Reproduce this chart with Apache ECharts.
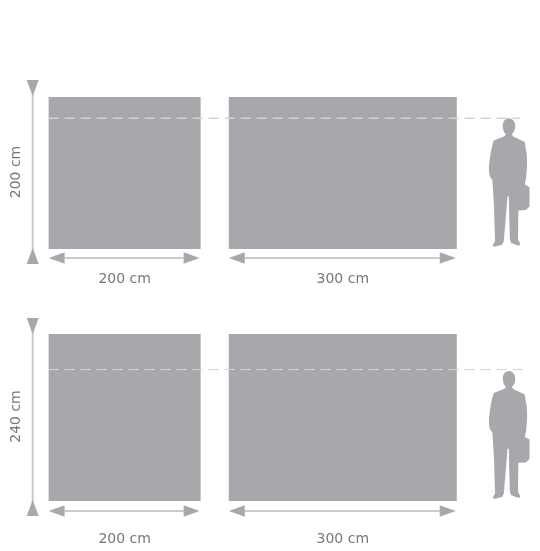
<!DOCTYPE html>
<html>
<head>
<meta charset="utf-8">
<style>html,body{margin:0;padding:0;background:#fff}#c{width:540px;height:551px}</style>
<script src="https://cdn.jsdelivr.net/npm/echarts@6/dist/echarts.min.js"></script>
</head>
<body>
<div id="c"></div>
<script>
// Data, in centimetres
var panelWidths = [200, 300];
var panelGap = 37;
var rowHeights = [200, 240];
var personFeet = [3, 3];
var personHead = [172, 187];
var guideLevel = [172, 189];
var guideEnd = [620, 631];
var personCentre = 606;
var xRange = [-64, 646.5];
var unit = ' cm';

// Styles
var GREY = '#a7a8ab', SHAFT = '#c9cacc', GUIDE = '#d2d3d5', TEXT = '#77787b';
var FONT = '"DejaVu Sans", sans-serif';
var PERSON = 'M205 55C193 55 186 66 187 82C188 92 192 100 196 104L192 109L160 122C154 140 150 165 147 190C145 205 146 222 150 233L156 240L158 268L161 320L164 425L157 437L162 441L185 435L190 425L197 340L201 290L205 290L206 350L208 420L212 430L235 438L239 433L232 420L233 332L255 331L266 320L266 262L252 254L256 235L259 195L258 165L252 126L218 110L214 104C220 96 224 90 224 80C224 66 217 55 205 55Z'
  + 'M192 112L178 212L235 212L218 112Z'
  + 'M200 116L208 116L206 126L212 198L205 208L198 198L203 126Z';

var panelStarts = [0, panelWidths[0] + panelGap];
var rows = [0, 1];

function arrowPoly(a, b, half) {
  // a = tip, b = base of head, in pixels
  var dx = b[0] - a[0], dy = b[1] - a[1], l = Math.sqrt(dx * dx + dy * dy) || 1;
  var nx = -dy / l * half, ny = dx / l * half;
  return [a, [b[0] + nx, b[1] + ny], [b[0] - nx, b[1] - ny]];
}
function arrow(p0, p1, vertical) {
  var len = 16, half = vertical ? 6 : 5.7;
  var s0 = vertical ? [p0[0], p0[1] - len] : [p0[0] + len, p0[1]];
  var s1 = vertical ? [p1[0], p1[1] + len] : [p1[0] - len, p1[1]];
  return [
    { type: 'line', shape: { x1: s0[0], y1: s0[1], x2: s1[0], y2: s1[1] }, style: { stroke: SHAFT, lineWidth: 2 } },
    { type: 'polygon', shape: { points: arrowPoly(p0, s0, half) }, style: { fill: GREY } },
    { type: 'polygon', shape: { points: arrowPoly(p1, s1, half) }, style: { fill: GREY } }
  ];
}

var series = [];
rows.forEach(function (r) {
  var h = rowHeights[r];
  var arrowDrop = r === 0 ? 9 : 10;
  var labelDrop = r === 0 ? 30 : 38;

  // panels
  series.push({
    type: 'custom', xAxisIndex: r, yAxisIndex: r, silent: true, clip: false, z: 1,
    data: panelWidths.map(function (w, i) { return [panelStarts[i], panelStarts[i] + w, h, w]; }),
    encode: { x: [0, 1], y: 2 },
    renderItem: function (p, api) {
      var a = api.coord([api.value(0), api.value(2)]);
      var b = api.coord([api.value(1), 0]);
      var axisY = b[1] + arrowDrop;
      var kids = [{ type: 'rect', shape: { x: a[0], y: a[1], width: b[0] - a[0], height: b[1] - a[1] }, style: { fill: GREY } }];
      kids = kids.concat(arrow([a[0], axisY], [b[0] - 1, axisY], false));
      kids.push({ type: 'text', style: {
        x: (a[0] + b[0]) / 2 + (api.value(3) === 300 ? -0 : 0), y: b[1] + labelDrop,
        text: api.value(3) + unit, fill: TEXT, font: '14px ' + FONT, align: 'center', verticalAlign: 'middle'
      } });
      return { type: 'group', children: kids };
    }
  });

  // height dimension
  series.push({
    type: 'custom', xAxisIndex: r, yAxisIndex: r, silent: true, clip: false, z: 1,
    data: [[-21, h]],
    encode: { x: 0, y: 1 },
    renderItem: function (p, api) {
      var t = api.coord([api.value(0), api.value(1)]);
      var b = api.coord([api.value(0), 0]);
      var kids = arrow([t[0], t[1] - 1 + (r ? 1 : 0)], [t[0], b[1] - 1], true);
      kids.push({ type: 'text', x: t[0] - 16, y: (t[1] + b[1]) / 2 + (r ? -1 : -1), rotation: Math.PI / 2, style: {
        x: 0, y: 0, text: h + unit, fill: TEXT, font: '14px ' + FONT, align: 'center', verticalAlign: 'middle'
      } });
      return { type: 'group', children: kids };
    }
  });

  // person
  series.push({
    type: 'custom', xAxisIndex: r, yAxisIndex: r, silent: true, clip: false, z: 2,
    data: [[personCentre, personFeet[r], personHead[r]]],
    encode: { x: 0, y: [1, 2] },
    renderItem: function (p, api) {
      var f = api.coord([api.value(0), api.value(1)]);
      var t = api.coord([api.value(0), api.value(2)]);
      return { type: 'path', shape: { pathData: PERSON, layout: 'cover', x: f[0] - 20.3, y: t[1], width: 40.6, height: f[1] - t[1] }, style: { fill: GREY } };
    }
  });

  // height guide
  series.push({
    type: 'line', xAxisIndex: r, yAxisIndex: r, silent: true, z: 3, symbol: 'none', clip: false,
    data: [[0, guideLevel[r]], [guideEnd[r], guideLevel[r]]],
    lineStyle: { color: GUIDE, width: r === 0 ? 1.5 : 1.2, type: [10, 6] }
  });
});

var axisOff = { show: false };
var chart = echarts.init(document.getElementById('c'), null, { renderer: 'canvas' });
chart.setOption({
  animation: false,
  backgroundColor: '#ffffff',
  grid: [
    { left: 0, width: 540, top: 97, height: 152 },
    { left: 0, width: 540, top: 334, height: 167 }
  ],
  xAxis: rows.map(function (r) { return { type: 'value', gridIndex: r, min: xRange[0], max: xRange[1], show: false }; }),
  yAxis: rows.map(function (r) { return { type: 'value', gridIndex: r, min: 0, max: rowHeights[r], show: false }; }),
  series: series
});
</script>
</body>
</html>
